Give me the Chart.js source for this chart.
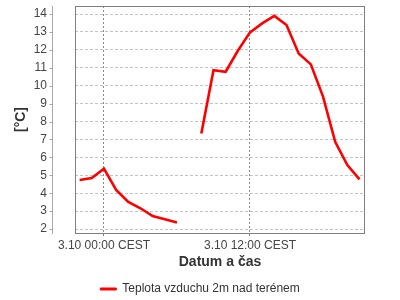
<!DOCTYPE html>
<html>
<head>
<meta charset="utf-8">
<script src="https://cdn.jsdelivr.net/npm/chart.js@4/dist/chart.umd.min.js"></script>
<style>
	html, body { margin: 0; padding: 0; background: #fff; }
	#tempChart { display: block; }
</style>
</head>
<body>
<canvas id="tempChart" width="400" height="300"></canvas>
<script>
// hours relative to 3.10 00:00 CEST
var hours = [-2, -1, 0, 1, 2, 3, 4, 5, 6, 7, 8, 9, 10, 11, 12, 13, 14, 15, 16, 17, 18, 19, 20, 21];
var temps = [4.74, 4.85, 5.37, 4.18, 3.52, 3.16, 2.73, 2.55, 2.36, null, 7.34, 10.87, 10.78, 11.95, 12.98, 13.48, 13.90, 13.39, 11.80, 11.19, 9.39, 6.87, 5.57, 4.77];
var xTicks = [0, 12];
var xTickLabels = ["3.10 00:00 CEST", "3.10 12:00 CEST"];
var yTicks = [2, 3, 4, 5, 6, 7, 8, 9, 10, 11, 12, 13, 14];
var seriesName = "Teplota vzduchu 2m nad terénem";

var FONT = "'Liberation Sans', Arial, sans-serif";

// plot frame + the y axis line that sits a bit left of the plot
var frame = {
	id: 'frame',
	afterDraw: function(chart) {
		var ctx = chart.ctx;
		var a = chart.chartArea;
		var y = chart.scales.y;
		ctx.save();
		ctx.strokeStyle = '#808080';
		ctx.lineWidth = 1;
		ctx.strokeRect(Math.round(a.left) + 0.5, Math.round(a.top) + 0.5,
			Math.round(a.right - a.left) - 1, Math.round(a.bottom - a.top));

		var ax = Math.round(a.left) - 22.5;
		ctx.strokeStyle = '#a8a8a8';
		ctx.beginPath();
		ctx.moveTo(ax, a.top);
		ctx.lineTo(ax, a.bottom + 1);
		y.ticks.forEach(function(t) {
			var py = Math.round(y.getPixelForValue(t.value)) + 0.5;
			ctx.moveTo(ax - 3, py);
			ctx.lineTo(ax, py);
		});
		ctx.stroke();
		ctx.restore();
	}
};

var chart = new Chart(document.getElementById('tempChart'), {
	type: 'line',
	data: {
		datasets: [{
			label: seriesName,
			data: hours.map(function(h, i) { return { x: h, y: temps[i] }; }),
			borderColor: '#ff0000',
			backgroundColor: '#ff0000',
			borderWidth: 2.6,
			pointRadius: 0,
			tension: 0,
			spanGaps: false
		}]
	},
	options: {
		responsive: false,
		devicePixelRatio: 1,
		animation: false,
		layout: { padding: { top: 6, right: 0, left: 0, bottom: -5 } },
		plugins: {
			tooltip: { enabled: false },
			legend: {
				position: 'bottom',
				labels: {
					font: { family: FONT, size: 12 },
					color: '#333',
					boxWidth: 16,
					boxHeight: 2,
					padding: 10,
					generateLabels: function(c) {
						var items = Chart.defaults.plugins.legend.labels.generateLabels(c);
						items.forEach(function(it) { it.lineWidth = 1; });
						return items;
					}
				}
			}
		},
		scales: {
			x: {
				type: 'linear',
				min: -2.38,
				max: 21.45,
				afterBuildTicks: function(s) {
					s.ticks = xTicks.map(function(v) { return { value: v }; });
				},
				afterFit: function(s) { s.height = 40; },
				ticks: {
					callback: function(v) { return xTickLabels[xTicks.indexOf(v)]; },
					font: { family: FONT, size: 12 },
					color: '#444',
					padding: 2,
					maxRotation: 0,
					autoSkip: false
				},
				grid: {
					color: '#8a8a8a',
					tickColor: '#808080',
					tickLength: 3,
					lineWidth: 1
				},
				border: { display: false, dash: [2, 2] },
				title: {
					display: true,
					text: 'Datum a čas',
					font: { family: FONT, size: 14, weight: 'bold' },
					color: '#333',
					padding: { top: 0, bottom: 2 }
				}
			},
			y: {
				min: 1.78,
				max: 14.45,
				afterBuildTicks: function(s) {
					s.ticks = yTicks.map(function(v) { return { value: v }; });
				},
				afterFit: function(s) { s.width = 75; },
				ticks: {
					font: { family: FONT, size: 12, lineHeight: 1 },
					color: '#444',
					padding: 0,
					autoSkip: false
				},
				grid: {
					color: '#c4c4c4',
					tickLength: 28,
					tickColor: 'rgba(0,0,0,0)',
					lineWidth: 1
				},
				border: { display: false, dash: [3, 2] },
				title: {
					display: true,
					text: '[°C]',
					font: { family: FONT, size: 14, weight: 'bold' },
					color: '#333',
					padding: { top: 13, bottom: 0 }
				}
			},
			// empty right margin so the legend stays centred on the canvas
			yRight: {
				position: 'right',
				min: 1.78,
				max: 14.45,
				afterFit: function(s) { s.width = 35; },
				ticks: { display: false },
				grid: { display: false },
				border: { display: false }
			}
		}
	},
	plugins: [frame]
});
</script>
</body>
</html>
